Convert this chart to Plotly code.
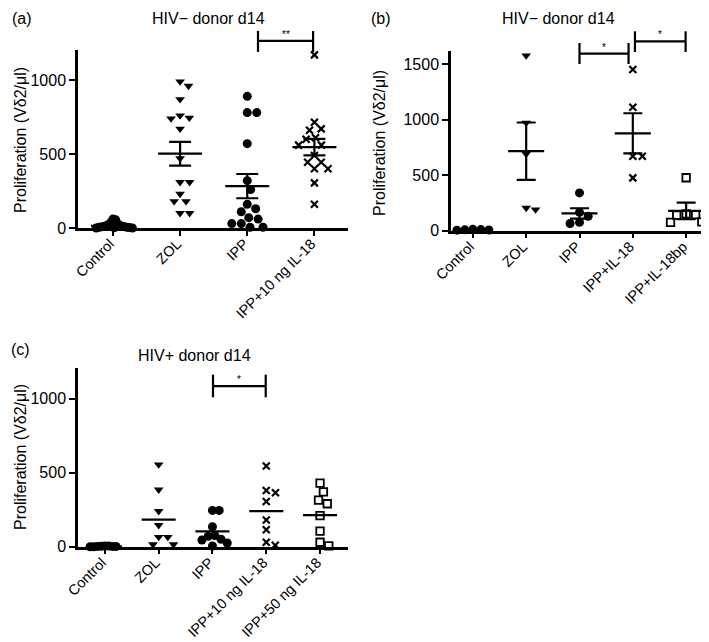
import math
import plotly.graph_objects as go

# ---------------- data ----------------
cats_a = ["Control", "ZOL", "IPP", "IPP+10 ng IL-18"]
a_control = [60, 55, 35, 25, 20, 15, 12, 10, 8, 5, 5, 3, 2, 0, 0]
a_zol = [990, 960, 870, 760, 745, 740, 670, 470, 310, 310, 230, 180, 180, 100, 100]
a_ipp = [890, 780, 780, 570, 320, 260, 160, 130, 110, 70, 60, 30, 30, 5, 5]
a_ipp_il18 = [1170, 715, 670, 660, 610, 600, 560, 560, 490, 445, 445, 400, 400, 305, 160]
a_mean = [15, 502, 283, 547]
a_sem = [5, 80, 82, 56]

cats_b = ["Control", "ZOL", "IPP", "IPP+IL-18", "IPP+IL-18bp"]
b_control = [12, 10, 8, 6, 5]
b_zol = [1575, 970, 690, 205, 190]
b_ipp = [340, 165, 130, 75, 65]
b_ipp_il18 = [1450, 1110, 670, 670, 475]
b_ipp_il18bp = [476, 150, 145, 140, 80, 75]
b_mean = [8, 715, 155, 876, 178]
b_sem = [1, 258, 47, 180, 75]

cats_c = ["Control", "ZOL", "IPP", "IPP+10 ng IL-18", "IPP+50 ng IL-18"]
c_control = [5, 4, 3, 2, 2, 1, 0, 0]
c_zol = [555, 385, 240, 145, 65, 65, 15, 15]
c_ipp = [245, 245, 135, 75, 70, 50, 45, 25, 5]
c_ipp_il18_10 = [545, 380, 365, 305, 180, 115, 30, 10]
c_ipp_il18_50 = [430, 370, 315, 290, 210, 105, 30, 5]
c_mean = [2, 183, 104, 240, 213]

y_title = "Proliferation (Vδ2/μl)"

# ---------------- styling ----------------
W, H = 709, 642
FONT = "Liberation Sans, Arial, sans-serif"
BLACK = "black"

MARK = {
    "circle": dict(symbol="circle", size=9, color=BLACK, line=dict(width=0)),
    "tri": dict(symbol="triangle-down", size=8.5, color=BLACK, line=dict(width=0)),
    "x": dict(symbol="x-thin", size=7, color=BLACK, line=dict(width=2.2, color=BLACK)),
    "sq": dict(symbol="square-open", size=7.5, color=BLACK, line=dict(width=1.8, color=BLACK)),
}
MSIZE = {"circle": 9.5, "tri": 9.5, "x": 9.5, "sq": 9.5}


def px(xp, yp):
    return xp / W, 1 - yp / H


panels = [
    dict(xa="x", ya="y", cats=cats_a,
         groups=[(a_control, "circle"), (a_zol, "tri"), (a_ipp, "circle"), (a_ipp_il18, "x")],
         mean=a_mean, sem=a_sem,
         xdom=[70 / W, 340 / W], ydom=[1 - 220 / H, 1 - 42 / H],
         xrange=[-0.52, 3.5], yrange=[0, 1203], yticks=[0, 500, 1000],
         mean_len=44, cap=11, maxw=0.58,
         brackets=[(2.16, 2.98, 1265, 1332, 1190, "**")],
         title=("HIV− donor d14", 200, 11), letter=("(a)", 2, 11), ytitle=(12, 132)),
    dict(xa="x2", ya="y2", cats=cats_b,
         groups=[(b_control, "circle"), (b_zol, "tri"), (b_ipp, "circle"), (b_ipp_il18, "x"),
                 (b_ipp_il18bp, "sq")],
         mean=b_mean, sem=b_sem,
         xdom=[443 / W, 708 / W], ydom=[1 - 222.7 / H, 1 - 43 / H],
         xrange=[-0.41, 4.56], yrange=[0, 1616], yticks=[0, 500, 1000, 1500],
         mean_len=36, cap=9.5, maxw=0.6,
         brackets=[(2.0, 2.92, 1592, 1688, 1499, "*"), (3.04, 3.99, 1703, 1793, 1607, "*")],
         title=("HIV− donor d14", 550, 11), letter=("(b)", 361, 11), ytitle=(372, 135)),
    dict(xa="x3", ya="y3", cats=cats_c,
         groups=[(c_control, "circle"), (c_zol, "tri"), (c_ipp, "circle"), (c_ipp_il18_10, "x"),
                 (c_ipp_il18_50, "sq")],
         mean=c_mean, sem=None,
         xdom=[70 / W, 340 / W], ydom=[1 - 538.7 / H, 1 - 360 / H],
         xrange=[-0.5, 4.52], yrange=[0, 1207], yticks=[0, 500, 1000],
         mean_len=34, cap=0, maxw=0.55,
         brackets=[(2.01, 2.99, 1084, 1162, 1009, "*")],
         title=("HIV+ donor d14", 187, 348), letter=("(c)", 1, 341), ytitle=(12, 449)),
]


def swarm(values, center, upx, cpx, d, maxw):
    """Classic beeswarm: each point goes to the free spot closest to the centre."""
    order = sorted(range(len(values)), key=lambda i: -values[i])
    placed = []
    offs = [0.0] * len(values)
    for i in order:
        y = values[i] * upx
        cands = [0.0]
        for xj, yj in placed:
            dy = abs(y - yj)
            if dy < d:
                dx = math.sqrt(d * d - dy * dy)
                cands += [xj + dx, xj - dx]
        ok = [c for c in cands
              if all((c - xj) ** 2 + (y - yj) ** 2 >= d * d - 1e-6 for xj, yj in placed)]
        best = min(ok, key=lambda c: (round(abs(c), 6), -c))
        placed.append((best, y))
        offs[i] = best
    span = max(abs(o) for o in offs) if offs else 0
    lim = maxw * cpx / 2
    scale = lim / span if span > lim else 1.0
    return [center + o * scale / cpx for o in offs]


fig = go.Figure()
shapes = []
annotations = []
layout_axes = {}

for p in panels:
    xa, ya = p["xa"], p["ya"]
    wpx = (p["xdom"][1] - p["xdom"][0]) * W
    hpx = (p["ydom"][1] - p["ydom"][0]) * H
    cpx = wpx / (p["xrange"][1] - p["xrange"][0])
    upx = hpx / (p["yrange"][1] - p["yrange"][0])

    for gi, (vals, sym) in enumerate(p["groups"]):
        xs = swarm(vals, gi, upx, cpx, MSIZE[sym], p["maxw"])
        fig.add_trace(go.Scatter(x=xs, y=vals, mode="markers", marker=MARK[sym],
                                 xaxis=xa, yaxis=ya, cliponaxis=False, showlegend=False,
                                 hoverinfo="y"))

    # mean line (+ SEM error bars)
    mt = dict(x=list(range(len(p["cats"]))), y=p["mean"], mode="markers",
              marker=dict(symbol="line-ew", size=p["mean_len"] / 1.4, color=BLACK,
                          line=dict(width=2.2, color=BLACK)),
              xaxis=xa, yaxis=ya, cliponaxis=False, showlegend=False, hoverinfo="y")
    if p["sem"] is not None:
        mt["error_y"] = dict(type="data", array=p["sem"], symmetric=True, color=BLACK,
                             thickness=2.2, width=p["cap"])
    fig.add_trace(go.Scatter(**mt))

    def fx(v):
        return (v - p["xrange"][0]) / (p["xrange"][1] - p["xrange"][0])

    def fy(v):
        return (v - p["yrange"][0]) / (p["yrange"][1] - p["yrange"][0])

    xr, yr = xa + " domain", ya + " domain"
    for (x0, x1, yl, yt, yb, stars) in p["brackets"]:
        line = dict(color=BLACK, width=2.2)
        shapes.append(dict(type="line", xref=xr, yref=yr, x0=fx(x0), x1=fx(x1), y0=fy(yl), y1=fy(yl), line=line))
        shapes.append(dict(type="line", xref=xr, yref=yr, x0=fx(x0), x1=fx(x0), y0=fy(yb), y1=fy(yt), line=line))
        shapes.append(dict(type="line", xref=xr, yref=yr, x0=fx(x1), x1=fx(x1), y0=fy(yb), y1=fy(yt), line=line))
        annotations.append(dict(text=stars, xref=xr, yref=yr, x=fx((x0 + x1) / 2), y=fy(yl),
                                xanchor="center", yanchor="bottom", showarrow=False, yshift=-1,
                                font=dict(size=10, family=FONT, color=BLACK)))

    t, tx, ty = p["title"]
    ax_, ay_ = px(tx, ty)
    annotations.append(dict(text=t, xref="paper", yref="paper", x=ax_, y=ay_, xanchor="center",
                            yanchor="middle", showarrow=False, font=dict(size=16, family=FONT, color=BLACK)))
    l, lx, ly = p["letter"]
    ax_, ay_ = px(lx, ly)
    annotations.append(dict(text=l, xref="paper", yref="paper", x=ax_, y=ay_, xanchor="left",
                            yanchor="middle", showarrow=False, font=dict(size=16, family=FONT, color=BLACK)))
    ax_, ay_ = px(*p["ytitle"])
    annotations.append(dict(text=y_title, xref="paper", yref="paper", x=ax_, y=ay_, xanchor="center",
                            yanchor="middle", textangle=-90, showarrow=False,
                            font=dict(size=16, family=FONT, color=BLACK)))

    xkey = "xaxis" + xa[1:]
    ykey = "yaxis" + ya[1:]
    layout_axes[xkey] = dict(domain=p["xdom"], range=p["xrange"], anchor=ya, automargin=False,
                             tickvals=list(range(len(p["cats"]))), ticktext=p["cats"],
                             tickangle=-45, ticks="outside", ticklen=5, tickwidth=2, tickcolor=BLACK,
                             ticklabelstandoff=-6, ticklabelshift=-3,
                             showline=True, linewidth=2.5, linecolor=BLACK, showgrid=False,
                             zeroline=False, tickfont=dict(size=14.5, family=FONT, color=BLACK),
                             fixedrange=True)
    layout_axes[ykey] = dict(domain=p["ydom"], range=p["yrange"], anchor=xa, automargin=False,
                             tickvals=p["yticks"], ticks="outside", ticklen=6, tickwidth=2,
                             tickcolor=BLACK, showline=True, linewidth=2.5, linecolor=BLACK,
                             showgrid=False, zeroline=False,
                             tickfont=dict(size=16, family=FONT, color=BLACK), fixedrange=True)

fig.update_layout(width=W, height=H, margin=dict(l=0, r=0, t=0, b=0, pad=0, autoexpand=False),
                  autosize=False,
                  paper_bgcolor="white", plot_bgcolor="white", showlegend=False,
                  font=dict(family=FONT, color=BLACK), shapes=shapes, annotations=annotations,
                  **layout_axes)

fig.write_html("out.html", include_plotlyjs=True, config={"displayModeBar": False})
